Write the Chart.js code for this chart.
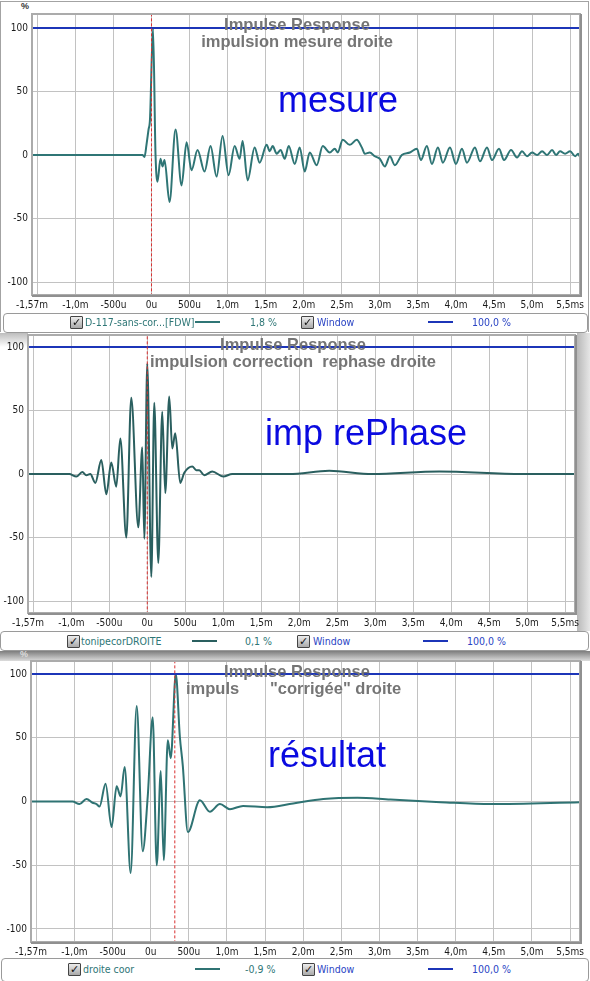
<!DOCTYPE html>
<html><head><meta charset="utf-8">
<script src="https://cdn.jsdelivr.net/npm/chart.js@4.4.1/dist/chart.umd.min.js"></script>
<style>
html,body{margin:0;padding:0;background:#fff;}
body{width:590px;height:981px;position:relative;overflow:hidden;font-family:"Liberation Sans",Arial,sans-serif;}
.abs{position:absolute;}
canvas{position:absolute;left:0;}
.title{position:absolute;font:bold 16.5px "Liberation Sans",Arial,sans-serif;color:#757575;white-space:pre;line-height:17px;}
.big{position:absolute;font:36px "Liberation Sans",Arial,sans-serif;color:#0a0ae0;white-space:nowrap;line-height:36px;}
.leg{position:absolute;background:#fff;border:1px solid #9a9a9a;border-radius:4px;box-sizing:border-box;}
.lt{position:absolute;font:10.5px "Liberation Sans Narrow","DejaVu Sans Condensed","Liberation Sans",Arial,sans-serif;white-space:nowrap;line-height:12px;}
.cb{position:absolute;width:11px;height:11px;border:1px solid #444;background:linear-gradient(#ececec,#a9a9a9);font:bold 11px "DejaVu Sans",sans-serif;line-height:11px;text-align:center;color:#111;border-radius:1px;}
.ls{position:absolute;height:2px;}
.pct{position:absolute;font:bold 9px "Liberation Sans",Arial,sans-serif;color:#333;}
</style>
</head><body>
<script>
// ---------- data ----------
const xTickValues = [-1.57,-1.5,-1.0,-0.5,0,0.5,1.0,1.5,2.0,2.5,3.0,3.5,4.0,4.5,5.0,5.5];
const xTickLabels = ['-1,57m','','-1,0m','-500u','0u','500u','1,0m','1,5m','2,0m','2,5m','3,0m','3,5m','4,0m','4,5m','5,0m','5,5ms'];
const yTickValues = [-100,-50,0,50,100];
const yTickLabels = ['-100','-50','0','50','100'];

// time in ms, amplitude in %
const mesureT = [-1.57,-0.118,-0.092,-0.066,-0.039,-0.020,0.020,0.053,0.079,0.118,
  0.145,0.171,0.237,0.316,0.395,0.461,0.526,0.605,0.697,0.776,
  0.855,0.934,1.013,1.092,1.158,1.197,1.263,1.355,1.421,1.513,
  1.553,1.592,1.645,1.697,1.750,1.803,1.882,1.947,2.013,2.079,
  2.171,2.250,2.342,2.408,2.447,2.513,2.605,2.697,2.763,2.803,
  2.868,2.934,3.000,3.066,3.132,3.197,3.289,3.395,3.487,3.539,
  3.618,3.684,3.763,3.829,3.921,4.000,4.079,4.145,4.250,4.316,
  4.408,4.474,4.566,4.632,4.724,4.803,4.868,4.934,5.000,5.066,
  5.132,5.197,5.263,5.316,5.368,5.434,5.500,5.566,5.605,5.632];
const mesureV = [0,0,-1.5,8,20,28,100,0,-21,-3,
  -9,-4,-37,20,-24,10,-12,4,-13,7,
  -17,15,-16,7,-3,11,-20,6,-6,8,
  3,7,1,4,-3,7,-7,6,-13,2,
  -8,7,2,5,2,12,8,12,6,1,
  2,-1,-3,-9,-1,-8,0,2,5,-4,
  7,-7,6,-6,6,-7,5,-6,6,-5,
  6,-4,5,-4,4,-2,3,-1,2,0,
  3,0,4,0,3,1,3,-1,1,-2];

const rephaseT = [-1.57,-1.026,-0.934,-0.855,-0.803,-0.750,-0.684,-0.605,-0.539,-0.474,
  -0.408,-0.355,-0.276,-0.211,-0.118,-0.066,-0.039,0.000,0.053,0.092,
  0.145,0.197,0.237,0.289,0.329,0.368,0.434,0.487,0.592,0.645,
  0.684,0.750,0.855,1.0,1.118,1.474,1.868,2.395,2.961,3.842,
  4.934,5.63];
const rephaseV = [0,0,-2,1.5,-1,0,-7,11,-16,9,
  -10,28,-50,60,-42,21,-51,87,-81,56,
  -70,49,-15,61,20,32,-7,1,6,3,
  3,-1,2,-2,0,0,0,2.5,0,2,
  0,0];

const resultT = [-1.57,-1.026,-0.934,-0.842,-0.763,-0.711,-0.671,-0.592,-0.513,-0.447,
  -0.395,-0.342,-0.263,-0.184,-0.105,-0.039,0.026,0.079,0.132,0.171,
  0.224,0.263,0.329,0.382,0.421,0.487,0.645,0.776,0.908,1.039,
  1.211,1.526,1.868,2.263,2.711,3.145,3.803,4.461,5.63];
const resultV = [0,0,-2,2,-1,-2,-4,14,-20,12,
  4,27,-56,75,-39,4,66,-50,24,-46,
  48,34,100,51,28,-24,1,-8,-2,-6,
  -3.5,-4.5,-1.5,2,3,1.5,-0.5,-2,-0.5];

const windowT = [-1.57, 5.63];
const windowV = [100, 100];
const markerT = [0, 0, 0.316];

const panelTitles = ['impulsion mesure droite', 'impulsion correction  rephase droite', ''];
const panelLabels = ['mesure', 'imp rePhase', 'résultat'];
const seriesNames = ['D-117-sans-cor...[FDW]', 'tonipecorDROITE', 'droite coor'];
const seriesValues = ['1,8 %', '0,1 %', '-0,9 %'];
const windowName = 'Window';
const windowValue = '100,0 %';

// ---------- layout ----------
const TICKFONT = '"Liberation Sans Narrow","DejaVu Sans Condensed","Liberation Sans",Arial,sans-serif';
const panels = [
  {top:0,   h:312, padTop:14, yW:32, padR:10, yMin:-110.2, yMax:111.0, T:mesureT,  V:mesureV,  lineCol:'#2f7575'},
  {top:333, h:297, padTop:2,  yW:28, padR:15, yMin:-109.4, yMax:109.4, T:rephaseT, V:rephaseV, lineCol:'#2a5f5f'},
  {top:650, h:309, padTop:11, yW:31, padR:10, yMin:-110.2, yMax:110.2, T:resultT,  V:resultV,  lineCol:'#2f7373'}
];

function el(cls, css, text){
  const d=document.createElement('div'); d.className=cls; Object.assign(d.style, css);
  if(text!==undefined) d.textContent=text; document.body.appendChild(d); return d;
}

// backgrounds / frames
el('abs',{left:'0px',top:'1px',width:'589px',height:'331px',border:'1px solid #a3a3a3',borderBottom:'none',boxSizing:'border-box'});
el('abs',{left:'577px',top:'333px',width:'13px',height:'298px',background:'linear-gradient(90deg,#b8b8b8,#e6e6e6)'});
el('abs',{left:'0px',top:'333px',width:'28px',height:'14px',background:'linear-gradient(#bdbdbd,#ffffff)'});
el('abs',{left:'0px',top:'651px',width:'590px',height:'10px',background:'linear-gradient(#7d7d7d,#dcdcdc)'});
el('pct',{left:'21px',top:'1px'},'%');
el('pct',{left:'20px',top:'649px',color:'#ddd'},'%');

const framePlugin = {
  id:'frame',
  afterDatasetsDraw(chart){
    const {ctx, chartArea:a} = chart;
    ctx.save();
    ctx.strokeStyle='#ababab'; ctx.lineWidth=2;
    ctx.strokeRect(a.left, a.top, a.right-a.left, a.bottom-a.top);
    ctx.strokeStyle='#909090'; ctx.lineWidth=2;
    ctx.beginPath(); ctx.moveTo(a.left, a.bottom+1); ctx.lineTo(a.right+1, a.bottom+1); ctx.lineTo(a.right+1, a.top); ctx.stroke();
    ctx.restore();
  }
};

panels.forEach((p, i) => {
  const c = document.createElement('canvas');
  c.width = 590; c.height = p.h; c.style.top = p.top+'px'; c.style.width='590px'; c.style.height=p.h+'px';
  document.body.appendChild(c);
  const wave = p.T.map((t,k)=>({x:t, y:p.V[k]}));
  const win = windowT.map((t,k)=>({x:t, y:windowV[k]}));
  const mark = [{x:markerT[i], y:p.yMin-5},{x:markerT[i], y:p.yMax+5}];
  new Chart(c, {
    type:'line',
    data:{datasets:[
      {data:mark, borderColor:'#d93030', borderWidth:1, borderDash:[3,2], pointRadius:0, tension:0},
      {data:win, borderColor:'#1c35b8', borderWidth:2, pointRadius:0, tension:0},
      {data:wave, borderColor:p.lineCol, borderWidth:2, pointRadius:0, cubicInterpolationMode:'monotone'}
    ]},
    options:{
      responsive:false, animation:false, devicePixelRatio:1,
      layout:{padding:{top:p.padTop, right:p.padR, left:0, bottom:0}},
      plugins:{legend:{display:false}, tooltip:{enabled:false}, title:{display:false}},
      scales:{
        x:{type:'linear', min:-1.57, max:5.63,
          afterBuildTicks:s=>{ s.ticks = xTickValues.map(v=>({value:v})); },
          afterFit:s=>{ s.height=17; s.paddingLeft=0; s.paddingRight=0; s.paddingTop=0; s.paddingBottom=0; },
          grid:{color:'#c2c2c2', lineWidth:1, drawTicks:false},
          border:{display:false},
          ticks:{autoSkip:false, maxRotation:0, minRotation:0, padding:4, color:'#1a1a1a',
            font:{family:TICKFONT, size:10},
            callback:(v)=>{ const k=xTickValues.findIndex(t=>Math.abs(t-v)<1e-6); return k<0?'':xTickLabels[k]; }}
        },
        y:{type:'linear', min:p.yMin, max:p.yMax,
          afterBuildTicks:s=>{ s.ticks = yTickValues.map(v=>({value:v})); },
          afterFit:s=>{ s.width=p.yW; s.paddingLeft=0; s.paddingRight=0; s.paddingTop=0; s.paddingBottom=0; },
          grid:{color:'#c2c2c2', lineWidth:1, drawTicks:false},
          border:{display:false},
          ticks:{padding:4, color:'#1a1a1a', font:{family:TICKFONT, size:10},
            callback:(v)=>{ const k=yTickValues.indexOf(v); return k<0?'':yTickLabels[k]; }}
        }
      }
    },
    plugins:[framePlugin]
  });
});

// titles
function center(cls, x, top, text){
  const d = el(cls, {left:x+'px', top:top+'px', transform:'translateX(-50%)'}, text); return d;
}
center('title', 297, 16, 'Impulse Response');
center('title', 297, 33, panelTitles[0]);
center('title', 293, 336, 'Impulse Response');
center('title', 293, 353, panelTitles[1]);
center('title', 297, 663, 'Impulse Response');
el('title', {left:'186px', top:'680px'}, 'impuls');
el('title', {left:'270px', top:'680px'}, '"corrigée" droite');

el('big', {left:'278px', top:'82px'}, panelLabels[0]);
el('big', {left:'265px', top:'415px'}, panelLabels[1]);
el('big', {left:'268px', top:'737px'}, panelLabels[2]);

// legends
const legs = [
  {top:313, h:20, left:3, w:585, cy:322, cb1:70, name:85, l1:195, val:250, cb2:301, wn:317, l2:428, wv:472},
  {top:631, h:20, left:0, w:589, cy:641, cb1:67, name:81, l1:192, val:245, cb2:297, wn:313, l2:423, wv:467},
  {top:958, h:24, left:1, w:588, cy:969, cb1:68, name:83, l1:195, val:245, cb2:302, wn:317, l2:428, wv:472}
];
legs.forEach((g,i)=>{
  el('leg',{left:g.left+'px', top:g.top+'px', width:g.w+'px', height:g.h+'px'});
  el('cb',{left:g.cb1+'px', top:(g.cy-6)+'px'},'✓');
  el('lt',{left:g.name+'px', top:(g.cy-6)+'px', color:'#2e7676'}, seriesNames[i]);
  el('ls',{left:g.l1+'px', top:(g.cy-1)+'px', width:'25px', background:panels[i].lineCol});
  el('lt',{left:g.val+'px', top:(g.cy-6)+'px', color:'#2e7676'}, seriesValues[i]);
  el('cb',{left:g.cb2+'px', top:(g.cy-6)+'px'},'✓');
  el('lt',{left:g.wn+'px', top:(g.cy-6)+'px', color:'#2a44c4'}, windowName);
  el('ls',{left:g.l2+'px', top:(g.cy-1)+'px', width:'25px', background:'#1c35b8'});
  el('lt',{left:g.wv+'px', top:(g.cy-6)+'px', color:'#2a44c4'}, windowValue);
});
</script>
</body></html>
